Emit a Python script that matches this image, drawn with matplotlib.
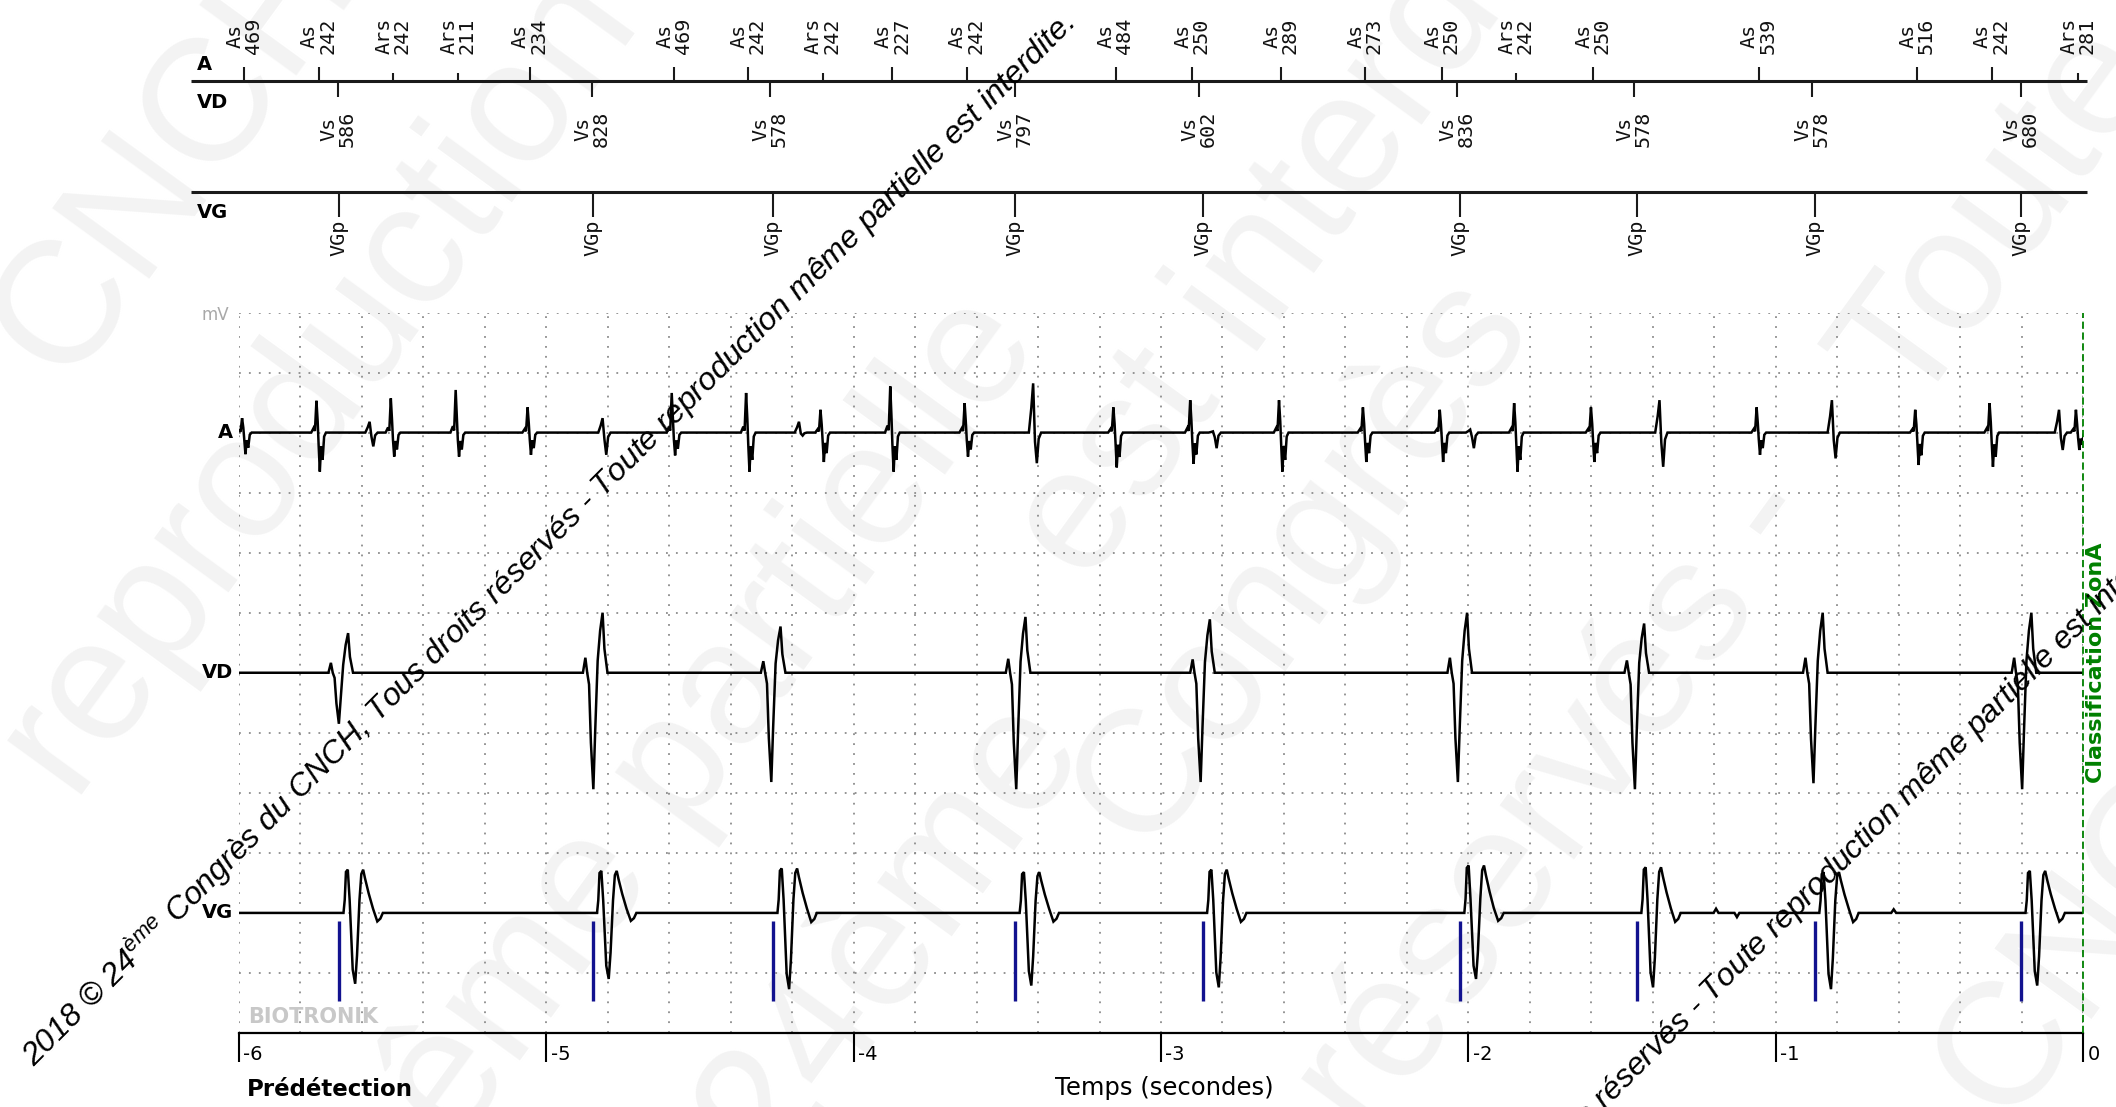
import numpy as np
import matplotlib
matplotlib.use("Agg")
import matplotlib.pyplot as plt
from matplotlib.ticker import MultipleLocator, FixedLocator
from matplotlib.transforms import ScaledTranslation

# ---------------- data ----------------
# atrial markers (time in s, label, interval in ms)
a_times = [-5.983, -5.741, -5.499, -5.288, -5.054, -4.585, -4.343, -4.101, -3.874, -3.632,
           -3.148, -2.898, -2.609, -2.336, -2.086, -1.844, -1.594, -1.055, -0.539, -0.297, -0.016]
a_types = ["As", "As", "Ars", "Ars", "As", "As", "As", "Ars", "As", "As",
           "As", "As", "As", "As", "As", "Ars", "As", "As", "As", "As", "Ars"]
a_ms = [469, 242, 242, 211, 234, 469, 242, 242, 227, 242,
        484, 250, 289, 273, 250, 242, 250, 539, 516, 242, 281]
# atrial EGM spike amplitudes (divisions above / below baseline)
a_up = [0.24, 0.53, 0.57, 0.71, 0.42, 0.66, 0.66, 0.38, 0.77, 0.49,
        0.42, 0.54, 0.54, 0.42, 0.38, 0.49, 0.42, 0.42, 0.38, 0.49, 0.38]
a_dn = [0.36, 0.65, 0.40, 0.40, 0.37, 0.38, 0.65, 0.49, 0.65, 0.40,
        0.58, 0.52, 0.65, 0.49, 0.49, 0.65, 0.49, 0.37, 0.54, 0.57, 0.29]

# right ventricular markers
vd_times = [-5.679, -4.851, -4.272, -3.475, -2.875, -2.038, -1.462, -0.881, -0.202]
vd_ms = [586, 828, 578, 797, 602, 836, 578, 578, 680]
vd_up = [0.66, 1.00, 0.77, 0.93, 0.89, 1.00, 0.82, 1.00, 1.00]
vd_dn = [0.85, 1.94, 1.82, 1.94, 1.82, 1.82, 1.94, 1.84, 1.94]
# far-field ventricular signal seen on the atrial lead
ff_delay = [0.11, 0.04, 0.10, 0.065, 0.05, 0.05, 0.09, 0.07, 0.13]
ff_up = [0.18, 0.24, 0.18, 0.82, 0.02, 0.05, 0.54, 0.54, 0.38]
ff_dn = [0.23, 0.37, 0.05, 0.51, 0.26, 0.26, 0.57, 0.43, 0.29]

# left ventricular paced events (VGp)
vg_times = [-5.674, -4.849, -4.262, -3.474, -2.864, -2.027, -1.451, -0.872, -0.201]
vg_up = [0.72, 0.70, 0.74, 0.68, 0.72, 0.79, 0.76, 0.68, 0.70]
vg_dn = [1.18, 1.10, 1.27, 1.21, 1.24, 1.10, 1.24, 1.27, 1.21]
vg_small_times = [-1.194, -1.126, -0.616]
vg_small_amp = [0.07, -0.07, 0.06]

sec_ticks = [-6, -5, -4, -3, -2, -1, 0]

# deflection shapes (ms from marker, normalised amplitude)
a_shape_ms = [-24, -16, -12, -7, -3, 0, 4, 8, 13, 18, 24]
a_shape_val = [0, 0.15, 0.05, 1.0, 0.35, -0.3, -1.0, -0.35, -0.7, -0.1, 0]
ff_shape_ms = [-20, -12, -6, 0, 6, 12, 20]
ff_shape_val = [0, 0.5, 1.0, -0.3, -1.0, -0.2, 0]
vd_shape_ms = [-30, -22, -16, -10, -4, 4, 10, 18, 26, 34, 40, 50]
vd_shape_val = [0, 0.25, 0.0, -0.1, -0.6, -1.0, -0.5, 0.2, 0.7, 1.0, 0.4, 0]
vg_shape_ms = [14, 18, 22, 28, 34, 44, 52, 58, 66, 72, 78, 84, 96, 110, 124, 134, 142]
vg_shape_val = [0, 0.3, 0.95, 1.0, 0.3, -0.8, -1.0, -0.6, 0.3, 0.9, 1.0, 0.8, 0.45, 0.1, -0.12, -0.08, 0]
bump_ms = [-8, 0, 8]
bump_val = [0, 1, 0]


def build_trace(segments, base):
    t, y = [-6.1], [base]
    for te, ms, val, up, dn in sorted(segments, key=lambda s: s[0]):
        for m, v in zip(ms, val):
            t.append(te + m / 1000.0)
            y.append(base + (v * up if v > 0 else v * dn))
    t.append(0.1)
    y.append(base)
    return np.array(t), np.array(y)


plt.rcParams["mathtext.fontset"] = "custom"
plt.rcParams["mathtext.rm"] = "Liberation Sans:italic"

W, H = 2116, 1107
fig = plt.figure(figsize=(W / 100, H / 100), dpi=100)
fig.patch.set_facecolor("white")


def fx(x):
    return x / W


def fy(y):
    return 1 - y / H


# trace area (pixels)
L, R, T, B = 239, 2083, 312.5, 1033
px_per_s = (R - L) / 6.0

# ---- light background watermark ----
wm_words = [("CNCH,", "center", 189, 135), ("reproduction", "center", 317, 378),
            ("même partielle", "right", 1005, 317), ("est interdite", "left", 1050, 560),
            ("24ème", "center", 891, 931), ("Congrès", "center", 1300, 560),
            ("réservés -", "center", 1559, 803), ("Toute", "center", 1998, 216),
            ("du CNCH", "center", 2050, 1000)]
for w, ha, x, y in wm_words:
    fig.text(fx(x), fy(y), w, rotation=54, rotation_mode="anchor", ha=ha, va="center",
             fontsize=125, family="Liberation Sans", color="#f3f3f3", zorder=-5)

# ---- marker channel ----
axm = fig.add_axes([0, 0, 1, 1])
axm.set_xlim(-6 - L / px_per_s, (W - R) / px_per_s)
axm.set_ylim(H, 0)
axm.axis("off")
axm.patch.set_alpha(0)

mk_font = dict(family="DejaVu Sans Mono", fontsize=14.5, color="#111111")
t_line0 = -6 - (L - 191) / px_per_s
axm.hlines([81, 192], t_line0, 0.013, color="#1a1a1a", lw=2.2)
for t, typ, ms in zip(a_times, a_types, a_ms):
    top = 67 if typ == "As" else 73
    axm.vlines(t, top, 81, color="#1a1a1a", lw=1.5)
    axm.text(t, 54, f"{typ}\n{ms}", rotation=90, ha="center", va="bottom",
             linespacing=0.95, **mk_font)
for t, ms in zip(vd_times, vd_ms):
    axm.vlines(t, 81, 97, color="#1a1a1a", lw=1.5)
    axm.text(t, 111, f"Vs\n{ms}", rotation=90, ha="center", va="top",
             linespacing=0.95, **mk_font)
for t in vg_times:
    axm.vlines(t, 192, 217, color="#1a1a1a", lw=1.5)
    axm.text(t, 220, "VGp", rotation=90, ha="center", va="top", **mk_font)

for lab, y in [("A", 65), ("VD", 103), ("VG", 213)]:
    fig.text(fx(197), fy(y), lab, ha="left", va="center", fontsize=14, fontweight="bold")

# ---- EGM traces ----
ax = fig.add_axes([fx(L), fy(B), (R - L) / W, (B - T) / H])
ax.patch.set_alpha(0)
ax.set_xlim(-6, 0)
ax.set_ylim(0, 12)
ax.xaxis.set_major_locator(FixedLocator(sec_ticks))
ax.xaxis.set_minor_locator(MultipleLocator(0.2))
ax.yaxis.set_major_locator(MultipleLocator(1))
grid_kw = dict(color="#8c8c8c", lw=1.3, ls=(0, (1, 4.5)))
ax.grid(True, which="both", axis="x", **grid_kw)
ax.grid(True, which="major", axis="y", **grid_kw)
ax.set_axisbelow(True)
ax.tick_params(axis="x", which="major", direction="out", length=21, width=1.5,
               labelbottom=False, color="black")
ax.tick_params(axis="x", which="minor", length=0)
ax.tick_params(axis="y", length=0, labelleft=False)
for s in ["top", "left", "right"]:
    ax.spines[s].set_visible(False)
ax.spines["bottom"].set_linewidth(1.6)

a_base, vd_base, vg_base = 10, 6, 2
seg_a = [(t, a_shape_ms, a_shape_val, u, d) for t, u, d in zip(a_times, a_up, a_dn)]
seg_a += [(t + dl, ff_shape_ms, ff_shape_val, u, d)
          for t, dl, u, d in zip(vd_times, ff_delay, ff_up, ff_dn)]
seg_vd = [(t, vd_shape_ms, vd_shape_val, u, d) for t, u, d in zip(vd_times, vd_up, vd_dn)]
seg_vg = [(t, vg_shape_ms, vg_shape_val, u, d) for t, u, d in zip(vg_times, vg_up, vg_dn)]
seg_vg += [(t, bump_ms, bump_val, a, 0) for t, a in zip(vg_small_times, vg_small_amp)]

for segs, base in [(seg_a, a_base), (seg_vd, vd_base), (seg_vg, vg_base)]:
    tt, yy = build_trace(segs, base)
    ax.plot(tt, yy, color="black", lw=1.8, solid_joinstyle="miter", zorder=3)

# LV pacing spikes
ax.vlines(vg_times, 0.54, 1.86, color="#12128f", lw=2.4, zorder=5)

# end of episode
ax.axvline(0, color="#008000", lw=1.3, ls=(0, (4, 2)), clip_on=False, zorder=6)

lab_tr = ax.get_xaxis_transform() + ScaledTranslation(0.045, -0.21, fig.dpi_scale_trans)
for t in sec_ticks:
    ax.text(t, 0, str(t), transform=lab_tr, ha="left", va="center", fontsize=14)

for lab, y in [("A", 432), ("VD", 672), ("VG", 913)]:
    fig.text(fx(233), fy(y), lab, ha="right", va="center", fontsize=14, fontweight="bold")

fig.text(fx(229), fy(315), "mV", ha="right", va="center", fontsize=12, color="#a8a8a8")
fig.text(fx(248), fy(1017), "BIOTRONIK", ha="left", va="center", fontsize=15,
         fontweight="bold", color="#c8c8c8")
fig.text(fx(247), fy(1089), "Prédétection", ha="left", va="center", fontsize=16.5,
         fontweight="bold")
fig.text(fx(1164), fy(1088), "Temps (secondes)", ha="center", va="center", fontsize=17.5)
fig.text(fx(2096), fy(663), "Classification ZonA", rotation=90, ha="center", va="center",
         fontsize=16, fontweight="bold", color="#008000")

# ---- diagonal copyright notice ----
notice = ("2018 © 24$^{\\mathrm{ème}}$ Congrès du CNCH, Tous droits réservés - "
          "Toute reproduction même partielle est interdite.")
for x0, y0 in [(35, 1068), (1144, 1573)]:
    fig.text(fx(x0), fy(y0), notice, rotation=45, rotation_mode="anchor", ha="left",
             va="baseline", fontsize=23, family="Liberation Sans", style="italic",
             color="black", zorder=10)

fig.savefig("out.png", dpi=100)
